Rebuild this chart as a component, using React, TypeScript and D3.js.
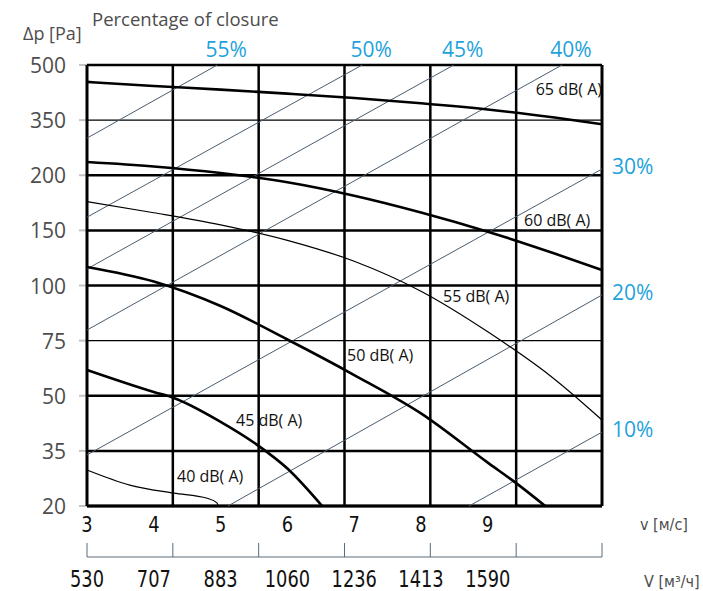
import React from 'react';
import * as d3 from 'd3';

// Pressure-drop axis: categories spaced evenly, values mapped piecewise-linearly
const pressureTicks = [500, 350, 200, 150, 100, 75, 50, 35, 20];
const thinPressureRows = [350, 75];

// Velocity axis (m/s) and matching air flow (m³/h)
const velocityTicks = [3, 4, 5, 6, 7, 8, 9];
const flowTicks = [530, 707, 883, 1060, 1236, 1413, 1590];
const velocityMin = 3;
const velocityMax = 10.71;

// Sound power curves: [v (m/s), Δp (Pa)]
const noise65 = [[3, 454], [4, 443], [5, 433], [6, 422], [7, 410], [8, 396], [9, 379], [10, 357], [10.71, 339]];
const noise60 = [[3, 236], [4, 224], [5, 206], [6, 193.6], [7, 181.4], [8, 166.2], [9, 148.8], [10, 129], [10.71, 114]];
const noise55 = [[3, 176], [4, 166], [5, 155], [6, 141], [7, 122], [8, 97.4], [9, 79], [10, 57.5], [10.71, 43.4]];
const noise50 = [[3, 116.8], [4, 103.6], [5, 90.7], [6, 75.5], [7, 59.4], [8, 45.2], [9, 31.8], [9.42, 26.3], [9.86, 20]];
const noise45 = [[3, 61.7], [4, 51.7], [4.3, 49.4], [5, 42.9], [5.59, 36.1], [6, 30.2], [6.52, 20]];
const noise40 = [[3, 29.8], [3.64, 25.7], [4.3, 23.5], [4.8, 22.1], [4.95, 20.8], [4.96, 20]];

const noiseLabels = ['65 dB( A)', '60 dB( A)', '55 dB( A)', '50 dB( A)', '45 dB( A)', '40 dB( A)'];

// Damper closure lines: start and end points [v, Δp]
const closureLabels = ['55%', '50%', '45%', '40%', '30%', '20%', '10%'];
const closureFrom = [[3, 301], [3, 162], [3, 115], [3, 79.8], [3, 33.9], [5.11, 20], [8.72, 20]];
const closureTo = [[4.95, 500], [7.12, 500], [8.49, 500], [10.11, 500], [10.71, 217], [10.71, 95.7], [10.71, 40.1]];

const W = 703;
const H = 591;
const plot = { left: 87, right: 602, top: 65, bottom: 506 };

const x = d3.scaleLinear().domain([velocityMin, velocityMax]).range([plot.left, plot.right]);
const y = d3
  .scaleLinear()
  .domain(pressureTicks)
  .range(pressureTicks.map((_, i) => plot.top + (i * (plot.bottom - plot.top)) / (pressureTicks.length - 1)));

const columns = 6;
const gridVelocities = d3.range(columns + 1).map((i) => velocityMin + (i * (velocityMax - velocityMin)) / columns);

const line = d3
  .line<number[]>()
  .x((d) => x(d[0]))
  .y((d) => y(d[1]))
  .curve(d3.curveMonotoneX);

const straight = d3
  .line<number[]>()
  .x((d) => x(d[0]))
  .y((d) => y(d[1]));

const curves = [
  { data: noise65, width: 2.6, label: noiseLabels[0], lx: 602, ly: 95, anchor: 'end' },
  { data: noise60, width: 2.6, label: noiseLabels[1], lx: 524, ly: 226, anchor: 'start' },
  { data: noise55, width: 1.2, label: noiseLabels[2], lx: 443, ly: 302, anchor: 'start' },
  { data: noise50, width: 2.6, label: noiseLabels[3], lx: 347, ly: 361, anchor: 'start' },
  { data: noise45, width: 2.6, label: noiseLabels[4], lx: 236, ly: 426, anchor: 'start' },
  { data: noise40, width: 1.2, label: noiseLabels[5], lx: 177, ly: 482, anchor: 'start' },
];

const sans = "'Open Sans', 'Noto Sans', sans-serif";
const narrow = "'DejaVu Sans Condensed', 'Liberation Sans Narrow', sans-serif";
const blue = '#1ea2dc';
const grey = '#4d4d4d';

export default function App() {
  const bracketY = 557;
  return (
    <svg
      width={W}
      height={H}
      viewBox={`0 0 ${W} ${H}`}
      style={{ position: 'absolute', left: 0, top: 0, background: '#fff' }}
    >
      <rect x={0} y={0} width={W} height={H} fill="#fff" />

      {/* Titles */}
      <text x={92} y={26} fontFamily={sans} fontSize={18.5} fill={grey}>
        Percentage of closure
      </text>
      <text x={23} y={40} fontFamily={sans} fontSize={18} fill={grey}>
        Δp [Pa]
      </text>

      {/* Horizontal grid rows and y ticks */}
      {pressureTicks.map((p) => (
        <g key={`r${p}`}>
          <line x1={plot.left - 8} x2={plot.left} y1={y(p)} y2={y(p)} stroke="#c4c4c4" strokeWidth={2} />
          <line
            x1={plot.left}
            x2={plot.right}
            y1={y(p)}
            y2={y(p)}
            stroke="#000"
            strokeWidth={thinPressureRows.includes(p) ? 1.2 : 2.5}
          />
          <text x={66} y={y(p) + 8} textAnchor="end" fontFamily={sans} fontSize={21} fill={grey}>
            {p}
          </text>
        </g>
      ))}

      {/* Vertical grid columns */}
      {gridVelocities.map((v, i) => (
        <line
          key={`c${i}`}
          x1={x(v)}
          x2={x(v)}
          y1={plot.top}
          y2={plot.bottom}
          stroke="#000"
          strokeWidth={i === 0 || i === columns ? 3 : 2.5}
        />
      ))}
      <line x1={plot.left} x2={plot.right} y1={plot.bottom} y2={plot.bottom} stroke="#000" strokeWidth={3} />

      {/* Closure lines */}
      {closureLabels.map((lab, i) => {
        const a = closureFrom[i];
        const b = closureTo[i];
        const atTop = b[1] === pressureTicks[0];
        return (
          <g key={lab}>
            <path d={straight([a, b]) || ''} fill="none" stroke="#4a5d6e" strokeWidth={1} />
            {atTop ? (
              <text x={x(b[0]) + 9} y={plot.top - 8} textAnchor="middle" fontFamily={sans} fontSize={21} fill={blue}>
                {lab}
              </text>
            ) : (
              <text x={612} y={y(b[1]) + 5} textAnchor="start" fontFamily={sans} fontSize={21} fill={blue}>
                {lab}
              </text>
            )}
          </g>
        );
      })}

      {/* Noise curves */}
      {curves.map((c) => (
        <g key={c.label}>
          <path d={line(c.data) || ''} fill="none" stroke="#000" strokeWidth={c.width} />
          <text x={c.lx} y={c.ly} textAnchor={c.anchor as any} fontFamily={sans} fontSize={16} fill="#111">
            {c.label}
          </text>
        </g>
      ))}

      {/* Velocity axis */}
      {velocityTicks.map((v) => (
        <text
          key={`v${v}`}
          transform={`translate(${x(v)},532) scale(0.9,1)`}
          textAnchor="middle"
          fontFamily={narrow}
          fontSize={22}
          fill="#111"
        >
          {v}
        </text>
      ))}
      <text x={640} y={530} fontFamily={narrow} fontSize={16} fill={grey}>
        v [м/с]
      </text>

      {/* Air flow axis bracket */}
      <line x1={plot.left} x2={plot.right} y1={bracketY} y2={bracketY} stroke="#5b6b7a" strokeWidth={1} />
      {gridVelocities.map((v, i) => (
        <line key={`b${i}`} x1={x(v)} x2={x(v)} y1={bracketY - 14} y2={bracketY} stroke="#5b6b7a" strokeWidth={1} />
      ))}
      {flowTicks.map((f, i) => (
        <text
          key={`f${f}`}
          transform={`translate(${x(velocityTicks[i])},587) scale(0.86,1)`}
          textAnchor="middle"
          fontFamily={narrow}
          fontSize={23}
          fill="#111"
        >
          {f}
        </text>
      ))}
      <text x={644} y={587} fontFamily={narrow} fontSize={16} fill={grey}>
        V [м³/ч]
      </text>
    </svg>
  );
}
